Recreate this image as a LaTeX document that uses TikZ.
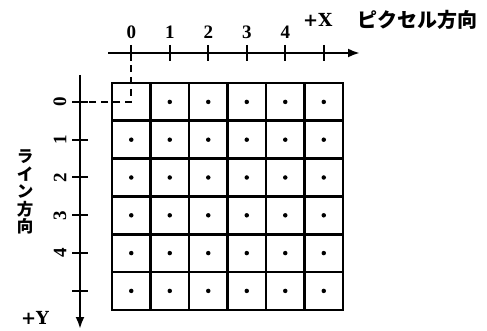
\documentclass[tikz,border=0pt]{standalone}
\usepackage{fontspec}
\usepackage{tikz}
\usetikzlibrary{arrows.meta, positioning, calc}
\setmainfont{Liberation Serif}
\newfontfamily\signfont{DejaVu Serif}
\newfontfamily\jpfont{Noto Sans CJK JP}

\tikzset{
  axisline/.style={line width=2.6pt, -{Latex[length=12pt, width=9pt]}},
  tickmark/.style={line width=2pt},
  cellbox/.style={draw, line width=2.6pt, minimum width=38.5pt, minimum height=37.8pt, inner sep=0pt},
  pixdot/.style={circle, fill, inner sep=0pt, minimum size=4.5pt},
  numlabel/.style={font=\bfseries\fontsize{19}{19}\selectfont},
  signlabel/.style={inner sep=0pt, font=\signfont\bfseries\fontsize{18}{18}\selectfont},
  guideline/.style={line width=2pt, dash pattern=on 7pt off 5pt},
}

\begin{document}
\begin{tikzpicture}[x=1pt, y=-1pt]
  \useasboundingbox (0,0) rectangle (487,331);
  % pixel grid
  \foreach \r in {0,...,5}{
    \foreach \c in {0,...,5}{
      \node[cellbox] (c-\r-\c) at ({131.25+38.5*\c},{101.9+37.8*\r}) {};
    }
  }
  \foreach \r in {0,...,5}{
    \foreach \c in {0,...,5}{
      \ifnum\numexpr\r+\c\relax>0
        \node[pixdot] (d-\r-\c) at (c-\r-\c) {};
      \fi
    }
  }

  % axes
  \coordinate (xstart) at (108,53);
  \coordinate (xend) at (360,53);
  \coordinate (ystart) at (80,75);
  \coordinate (yend) at (80,329);
  \draw[axisline] (xstart) -- (xend);
  \draw[axisline] (ystart) -- (yend);
  \foreach \i in {0,...,5}{
    \draw[tickmark] ($(c-0-\i |- xstart)+(0,-8)$) -- ++(0,16);
    \draw[tickmark] ($(c-\i-0 -| ystart)+(-8,0)$) -- ++(16,0);
  }

  % axis numbers
  \foreach \i in {0,...,4}{
    \node[numlabel] (xl-\i) at ($(c-0-\i |- xstart)+(0,-21)$) {\i};
    \node[numlabel, rotate=90] (yl-\i) at ($(c-\i-0 -| ystart)+(-20,0)$) {\i};
  }

  % guide to pixel (0,0)
  \draw[guideline] (c-0-0 |- xstart) -- (c-0-0.center) -- (c-0-0 -| ystart);

  % axis titles
  \node[signlabel, anchor=west] (xsign) at (303,20) {+X};
  \node[anchor=west, inner sep=0pt, font=\jpfont\bfseries\fontsize{20}{20}\selectfont] (xtitle) at (357,20) {ピクセル方向};
  \node[align=center, inner sep=0pt, font=\jpfont\bfseries\fontsize{16.5}{17.6}\selectfont] (ytitle) at (25,192)
    {ラ\\イ\\ン\\方\\向};
  \node[signlabel] (ysign) at (35,318) {+Y};
\end{tikzpicture}
\end{document}
